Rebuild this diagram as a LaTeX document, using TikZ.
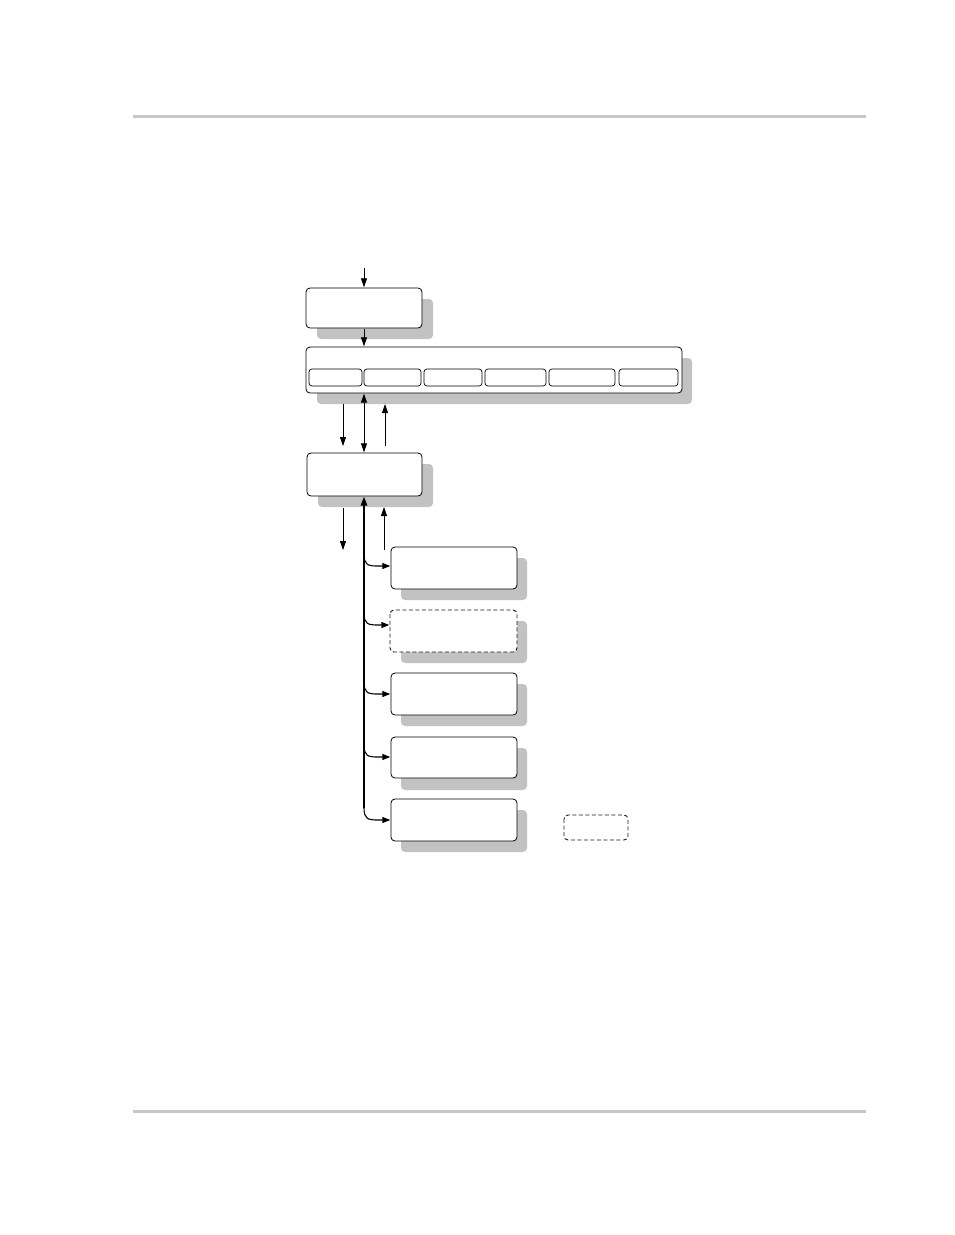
\documentclass[tikz,border=0pt]{standalone}
\usetikzlibrary{arrows.meta}
\definecolor{shadowgray}{gray}{0.76}
\definecolor{rulegray}{gray}{0.78}
\tikzset{
  x=1pt,y=-1pt,
  box/.style={draw=black,line width=0.8pt,fill=white,rounded corners=4pt},
  dbox/.style={box,dash pattern=on 4pt off 2.5pt,draw=black!90,line width=0.9pt},
  shadow/.style={fill=shadowgray,rounded corners=4pt,draw=none},
  inner/.style={draw=black,line width=0.7pt,fill=white,rounded corners=3pt},
  arr/.style={line width=0.8pt,-{Triangle[length=9pt,width=6pt]}},
  trunk/.style={line width=1.6pt},
  branch/.style={line width=1.1pt,-{Triangle[length=8pt,width=6pt]}},
  rulebar/.style={draw=rulegray,line width=3pt},
}
\begin{document}
\begin{tikzpicture}
\useasboundingbox (0,0) rectangle (954,1235);
% header / footer rules
\coordinate (h1) at (133,116.5); \coordinate (h2) at (866,116.5);
\coordinate (f1) at (133,1111.5); \coordinate (f2) at (866,1111.5);
\draw[rulebar] (h1) -- (h2);
\draw[rulebar] (f1) -- (f2);

% shadows
\fill[shadow] (317,299) rectangle (433,339);
\fill[shadow] (317,358) rectangle (692,404);
\fill[shadow] (318,464) rectangle (433,507);
\foreach \y in {547,610,673,737,799} {
  \fill[shadow] (401,\y+11) rectangle (527,\y+53);
}

% boxes
\draw[box] (306,288) rectangle (422,328);
\node[inner sep=0pt] (Atop) at (364,288) {};
\node[inner sep=0pt] (Abot) at (364,328) {};
\draw[box] (306,347) rectangle (682,393);
\node[inner sep=0pt] (Btop) at (364,347) {};
\node[inner sep=0pt] (Bbot) at (364,393) {};
\draw[inner] (309,369) rectangle (362,386);
\draw[inner] (364,369) rectangle (421,386);
\draw[inner] (424,369) rectangle (482,386);
\draw[inner] (485,369) rectangle (546,386);
\draw[inner] (549,369) rectangle (615,386);
\draw[inner] (619,369) rectangle (678,386);

\draw[box] (307,453) rectangle (422,496);
\node[inner sep=0pt] (Ctop) at (364,453) {};
\node[inner sep=0pt] (Cbot) at (364,496) {};

\draw[box]  (391,547) rectangle (517,589); \node[inner sep=0pt] (D1) at (391,566) {};
\draw[dbox] (390,610) rectangle (517,652); \node[inner sep=0pt] (D2) at (390,625) {};
\draw[box]  (391,673) rectangle (517,715); \node[inner sep=0pt] (D3) at (391,694) {};
\draw[box]  (391,737) rectangle (517,778); \node[inner sep=0pt] (D4) at (391,757) {};
\draw[box]  (391,799) rectangle (517,841); \node[inner sep=0pt] (D5) at (391,820) {};

% legend
\draw[dbox] (564,815) rectangle (628,840);

% top arrows
\coordinate (in0) at (364,268);
\draw[arr] (in0) -- (Atop);
\draw[arr] (Abot) -- (Btop);

% B <-> C
\coordinate (l1) at (343,404); \coordinate (l2) at (343,446);
\coordinate (r1) at (385,446); \coordinate (r2) at (385,404);
\draw[arr] (l1) -- (l2);
\draw[arr] (r1) -- (r2);
\draw[line width=0.8pt,{Triangle[length=9pt,width=6pt]}-{Triangle[length=9pt,width=6pt]}] (Bbot) -- (Ctop);

% below C
\coordinate (l3) at (343,508); \coordinate (l4) at (343,550);
\coordinate (r3) at (384,550); \coordinate (r4) at (384,507);
\draw[arr] (l3) -- (l4);
\draw[arr] (r3) -- (r4);

% trunk
\coordinate (tb) at (364,808);
\draw[trunk,-{Triangle[length=9pt,width=6.5pt]}] (tb) -- (Cbot);
\foreach \n/\y in {D1/566,D2/625,D3/694,D4/757,D5/820} {
  \draw[branch] (364,\y-12) .. controls (364,\y-1) and (368,\y) .. (378,\y) -- (\n);
}
\end{tikzpicture}
\end{document}
